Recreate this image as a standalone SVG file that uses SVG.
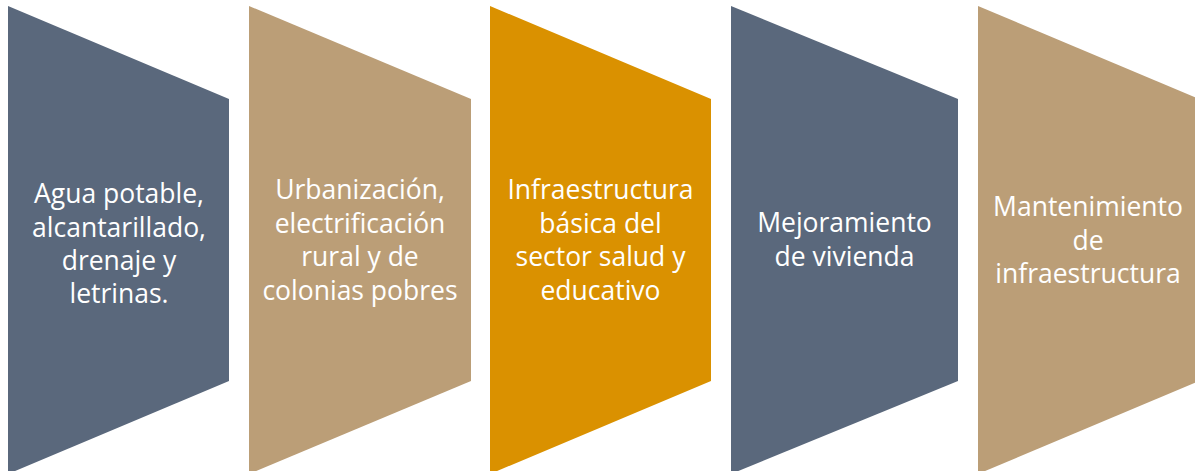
<svg xmlns="http://www.w3.org/2000/svg" width="1195" height="471" viewBox="0 0 1195 471">
<style>
.slate{fill:#5A687C}
.tan{fill:#BB9E77}
.orange{fill:#DA9100}
text{font-family:"Open Sans","Noto Sans","DejaVu Sans",sans-serif;font-size:26.5px;fill:#FFFFFF;text-anchor:middle}
</style>
<rect width="1195" height="471" fill="#FFFFFF"/>
<g id="connectors"></g>
<g id="node1">
<polygon class="slate" points="8,6 229,99 229,381 8,474"/>
<text x="119" y="203">Agua potable,</text>
<text x="119" y="237">alcantarillado,</text>
<text x="119" y="270">drenaje y</text>
<text x="119" y="303">letrinas.</text>
</g>
<g id="node2">
<polygon class="tan" points="249,6 471,99 471,381 249,474"/>
<text x="360" y="199">Urbanización,</text>
<text x="360" y="233">electrificación</text>
<text x="360" y="266">rural y de</text>
<text x="360" y="300">colonias pobres</text>
</g>
<g id="node3">
<polygon class="orange" points="490,6 711,99 711,381 490,474"/>
<text x="600.5" y="199">Infraestructura</text>
<text x="600.5" y="233">básica del</text>
<text x="600.5" y="266">sector salud y</text>
<text x="600.5" y="300">educativo</text>
</g>
<g id="node4">
<polygon class="slate" points="731,6 958,99 958,381 731,474"/>
<text x="844.5" y="232">Mejoramiento</text>
<text x="844.5" y="266">de vivienda</text>
</g>
<g id="node5">
<polygon class="tan" points="978,6 1199,99 1199,381 978,474"/>
<text x="1088" y="216">Mantenimiento</text>
<text x="1088" y="250">de</text>
<text x="1088" y="283">infraestructura</text>
</g>
</svg>
